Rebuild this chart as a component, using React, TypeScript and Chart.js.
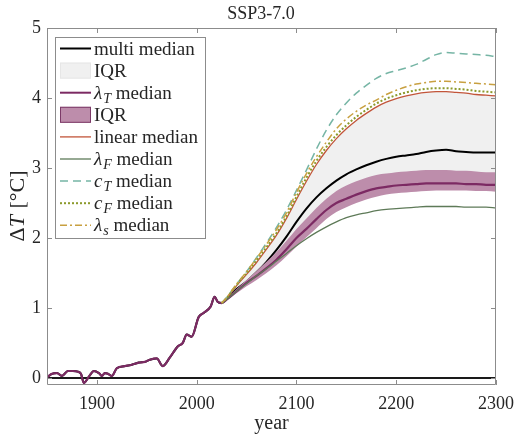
import React, { useEffect, useRef } from 'react';
import { Chart, registerables } from 'chart.js';
Chart.register(...registerables);

const FONT = '"Liberation Serif", "Times New Roman", serif';

// Historical (shared) curve
const histYears = [1850, 1855, 1860, 1865, 1871, 1876, 1881, 1884, 1887, 1892, 1897, 1902, 1905, 1908, 1911, 1915, 1920, 1928, 1935, 1942, 1948, 1953, 1960, 1966, 1973, 1981, 1986, 1990, 1995, 2002, 2007, 2014, 2018, 2021, 2025];
const histValues = [0.01, 0.06, 0.07, 0.03, 0.10, 0.10, 0.09, 0.06, -0.07, 0.02, 0.10, 0.07, 0.03, 0.07, 0.06, 0.03, 0.14, 0.17, 0.19, 0.22, 0.23, 0.26, 0.28, 0.17, 0.29, 0.45, 0.50, 0.62, 0.59, 0.87, 0.93, 1.02, 1.16, 1.09, 1.07];

// Projection years
const futureYears = [2030, 2040, 2050, 2060, 2070, 2080, 2090, 2100, 2110, 2120, 2130, 2140, 2150, 2160, 2170, 2180, 2190, 2200, 2210, 2220, 2230, 2240, 2250, 2260, 2270, 2280, 2290, 2300];

const multiMedian = [1.13, 1.27, 1.38, 1.51, 1.66, 1.83, 2.02, 2.23, 2.42, 2.58, 2.71, 2.82, 2.91, 2.98, 3.04, 3.09, 3.13, 3.16, 3.18, 3.20, 3.23, 3.25, 3.26, 3.24, 3.23, 3.22, 3.22, 3.22];
const multiIqrLow = [1.12, 1.25, 1.36, 1.48, 1.61, 1.75, 1.91, 2.08, 2.24, 2.39, 2.52, 2.63, 2.71, 2.77, 2.82, 2.86, 2.89, 2.91, 2.92, 2.93, 2.94, 2.94, 2.94, 2.94, 2.93, 2.93, 2.92, 2.92];
const multiIqrHigh = [1.14, 1.32, 1.48, 1.65, 1.84, 2.04, 2.28, 2.55, 2.81, 3.05, 3.25, 3.42, 3.56, 3.68, 3.78, 3.87, 3.94, 3.99, 4.03, 4.06, 4.08, 4.09, 4.09, 4.08, 4.07, 4.05, 4.04, 4.03];
const lambdaTMedian = [1.12, 1.24, 1.36, 1.46, 1.57, 1.69, 1.84, 2.00, 2.13, 2.27, 2.40, 2.50, 2.56, 2.62, 2.67, 2.71, 2.73, 2.75, 2.76, 2.77, 2.78, 2.78, 2.78, 2.78, 2.77, 2.77, 2.76, 2.76];
const lambdaTIqrLow = [1.11, 1.21, 1.31, 1.40, 1.50, 1.61, 1.74, 1.88, 2.01, 2.14, 2.27, 2.37, 2.44, 2.50, 2.55, 2.59, 2.62, 2.64, 2.65, 2.66, 2.67, 2.68, 2.68, 2.68, 2.68, 2.67, 2.67, 2.66];
const lambdaTIqrHigh = [1.14, 1.27, 1.40, 1.53, 1.66, 1.80, 1.96, 2.13, 2.28, 2.43, 2.56, 2.67, 2.75, 2.81, 2.86, 2.90, 2.92, 2.94, 2.95, 2.96, 2.97, 2.97, 2.97, 2.96, 2.96, 2.95, 2.94, 2.94];
const linearMedian = [1.14, 1.32, 1.48, 1.65, 1.84, 2.04, 2.28, 2.55, 2.81, 3.05, 3.25, 3.42, 3.56, 3.68, 3.78, 3.87, 3.94, 3.99, 4.03, 4.06, 4.08, 4.09, 4.09, 4.08, 4.07, 4.05, 4.04, 4.03];
const lambdaFMedian = [1.12, 1.24, 1.35, 1.46, 1.56, 1.67, 1.78, 1.89, 1.99, 2.08, 2.16, 2.23, 2.29, 2.33, 2.36, 2.39, 2.41, 2.42, 2.43, 2.44, 2.45, 2.45, 2.45, 2.45, 2.44, 2.44, 2.44, 2.43];
const cTMedian = [1.15, 1.34, 1.52, 1.72, 1.93, 2.15, 2.40, 2.68, 2.97, 3.27, 3.54, 3.76, 3.93, 4.07, 4.18, 4.28, 4.35, 4.39, 4.43, 4.48, 4.55, 4.62, 4.65, 4.64, 4.63, 4.62, 4.61, 4.59];
const cFMedian = [1.14, 1.33, 1.50, 1.68, 1.87, 2.07, 2.31, 2.59, 2.86, 3.10, 3.30, 3.47, 3.61, 3.73, 3.83, 3.92, 3.99, 4.04, 4.08, 4.11, 4.13, 4.14, 4.14, 4.13, 4.12, 4.10, 4.09, 4.08];
const lambdaSMedian = [1.15, 1.34, 1.52, 1.71, 1.91, 2.12, 2.36, 2.65, 2.92, 3.16, 3.37, 3.56, 3.70, 3.81, 3.90, 3.97, 4.05, 4.11, 4.16, 4.20, 4.22, 4.24, 4.24, 4.23, 4.22, 4.21, 4.20, 4.19];

const zeroLineYears = [1850, 2300];
const zeroLineValues = [0, 0];

const xTicks = [1900, 2000, 2100, 2200, 2300];
const yTicks = [0, 1, 2, 3, 4, 5];
const xRange = [1850, 2300];
const yRange = [-0.1, 5];

const titleText = 'SSP3-7.0';
const xLabel = 'year';

const C = {
  black: '#000000',
  gray: '#f0f0f0',
  magenta: '#7c2a63',
  magentaFill: '#bd8dab',
  red: '#c2553a',
  green: '#5e7a58',
  teal: '#76b5a5',
  olive: '#8c9a2c',
  gold: '#c8a040',
  axis: '#8c8c8c',
  text: '#262626',
};

type Part = { t: string; it?: boolean; sub?: boolean };
type LegendItem = { kind: 'line' | 'patch'; color: string; width?: number; dash?: number[]; fill?: string; border?: string; label: Part[] };

const legendItems: LegendItem[] = [
  { kind: 'line', color: C.black, width: 2, label: [{ t: 'multi median' }] },
  { kind: 'patch', color: C.gray, fill: C.gray, border: '#e6e6e6', label: [{ t: 'IQR' }] },
  { kind: 'line', color: C.magenta, width: 2, label: [{ t: 'λ', it: true }, { t: 'T', it: true, sub: true }, { t: ' median' }] },
  { kind: 'patch', color: C.magentaFill, fill: C.magentaFill, border: '#7c3a68', label: [{ t: 'IQR' }] },
  { kind: 'line', color: C.red, width: 1.3, label: [{ t: 'linear median' }] },
  { kind: 'line', color: C.green, width: 1.3, label: [{ t: 'λ', it: true }, { t: 'F', it: true, sub: true }, { t: ' median' }] },
  { kind: 'line', color: C.teal, width: 1.5, dash: [8, 5], label: [{ t: 'c', it: true }, { t: 'T', it: true, sub: true }, { t: ' median' }] },
  { kind: 'line', color: C.olive, width: 2, dash: [2, 2], label: [{ t: 'c', it: true }, { t: 'F', it: true, sub: true }, { t: ' median' }] },
  { kind: 'line', color: C.gold, width: 1.5, dash: [7, 3, 2, 3], label: [{ t: 'λ', it: true }, { t: 's', it: true, sub: true }, { t: ' median' }] },
];

const pts = (xs: number[], ys: number[]) => xs.map((x, i) => ({ x, y: ys[i] }));
const lastHist = { x: histYears[histYears.length - 1], y: histValues[histValues.length - 1] };
const histPts = pts(histYears, histValues);
const fut = (ys: number[]) => [lastHist, ...pts(futureYears, ys)];

function drawParts(ctx: CanvasRenderingContext2D, parts: Part[], x: number, y: number, size: number) {
  let cx = x;
  for (const p of parts) {
    const s = p.sub ? Math.round(size * 0.72) : size;
    ctx.font = `${p.it ? 'italic ' : ''}${s}px ${FONT}`;
    ctx.fillText(p.t, cx, y + (p.sub ? size * 0.22 : 0));
    cx += ctx.measureText(p.t).width + (p.it && !p.sub ? 1 : 0);
  }
  return cx - x;
}

function measureParts(ctx: CanvasRenderingContext2D, parts: Part[], size: number) {
  let w = 0;
  for (const p of parts) {
    const s = p.sub ? Math.round(size * 0.72) : size;
    ctx.font = `${p.it ? 'italic ' : ''}${s}px ${FONT}`;
    w += ctx.measureText(p.t).width + (p.it && !p.sub ? 1 : 0);
  }
  return w;
}

const decorPlugin = {
  id: 'decor',
  afterDatasetsDraw(chart: any) {
    const { ctx, chartArea: a, scales } = chart;
    ctx.save();
    ctx.strokeStyle = C.axis;
    ctx.lineWidth = 1;
    ctx.beginPath();
    ctx.rect(Math.round(a.left) + 0.5, Math.round(a.top) + 0.5, Math.round(a.right - a.left) - 1, Math.round(a.bottom - a.top) - 1);
    ctx.stroke();
    const tl = 5;
    ctx.beginPath();
    for (const v of xTicks) {
      const px = Math.round(scales.x.getPixelForValue(v)) + 0.5;
      ctx.moveTo(px, a.bottom); ctx.lineTo(px, a.bottom - tl);
      ctx.moveTo(px, a.top); ctx.lineTo(px, a.top + tl);
    }
    for (const v of yTicks) {
      const py = Math.round(scales.y.getPixelForValue(v)) + 0.5;
      ctx.moveTo(a.left, py); ctx.lineTo(a.left + tl, py);
      ctx.moveTo(a.right, py); ctx.lineTo(a.right - tl, py);
    }
    ctx.stroke();
    ctx.restore();
  },
  afterDraw(chart: any) {
    const { ctx } = chart;
    ctx.save();
    // Title
    ctx.fillStyle = C.text;
    ctx.font = `18px ${FONT}`;
    ctx.textAlign = 'center';
    ctx.textBaseline = 'alphabetic';
    ctx.fillText(titleText, 261, 19);

    // Y label (rotated)
    const yParts: Part[] = [{ t: 'Δ' }, { t: 'T', it: true }, { t: ' [°C]' }];
    ctx.textAlign = 'left';
    ctx.translate(24, 206);
    ctx.rotate(-Math.PI / 2);
    const w = measureParts(ctx, yParts, 22);
    drawParts(ctx, yParts, -w / 2, 0, 22);
    ctx.setTransform(1, 0, 0, 1, 0, 0);

    // Legend
    const lx = 55.5, ly = 37.5, lw = 150, lh = 201;
    ctx.fillStyle = '#ffffff';
    ctx.fillRect(lx, ly, lw, lh);
    ctx.strokeStyle = C.axis;
    ctx.lineWidth = 1;
    ctx.strokeRect(lx, ly, lw, lh);
    legendItems.forEach((it, i) => {
      const cy = 48.5 + i * 22.1;
      if (it.kind === 'line') {
        ctx.strokeStyle = it.color;
        ctx.lineWidth = it.width || 1.5;
        ctx.setLineDash(it.dash || []);
        ctx.beginPath();
        ctx.moveTo(60, cy);
        ctx.lineTo(91, cy);
        ctx.stroke();
        ctx.setLineDash([]);
      } else {
        ctx.fillStyle = it.fill!;
        ctx.fillRect(60, cy - 8, 31, 16);
        ctx.strokeStyle = it.border!;
        ctx.lineWidth = 1;
        ctx.strokeRect(60.5, cy - 7.5, 30, 15);
      }
      ctx.fillStyle = C.text;
      ctx.textAlign = 'left';
      ctx.textBaseline = 'alphabetic';
      drawParts(ctx, it.label, 94, cy + 6, 19);
    });
    ctx.restore();
  },
};

export default function App() {
  const ref = useRef<HTMLCanvasElement>(null);
  useEffect(() => {
    const mono = 'monotone' as const;
    const line = (data: any[], color: string, width: number, dash: number[] = []) => ({
      data, borderColor: color, borderWidth: width, borderDash: dash, pointRadius: 0, fill: false,
      cubicInterpolationMode: mono, borderCapStyle: 'butt' as const,
    });
    const chart = new Chart(ref.current!, {
      type: 'line',
      data: {
        datasets: [
          line(fut(lambdaSMedian), C.gold, 1.5, [7, 3, 2, 3]),
          line(fut(cFMedian), C.olive, 2, [2, 2]),
          line(fut(cTMedian), C.teal, 1.5, [8, 5]),
          line(fut(lambdaFMedian), C.green, 1.3),
          line(fut(linearMedian), C.red, 1.3),
          line([...histPts, ...pts(futureYears, lambdaTMedian)], C.magenta, 2.2),
          { ...line(fut(lambdaTIqrLow), 'rgba(0,0,0,0)', 0) },
          { ...line(fut(lambdaTIqrHigh), 'rgba(0,0,0,0)', 0), fill: '-1', backgroundColor: C.magentaFill },
          line([...histPts, ...pts(futureYears, multiMedian)], C.black, 2),
          { ...line(fut(multiIqrLow), 'rgba(0,0,0,0)', 0) },
          { ...line(fut(multiIqrHigh), 'rgba(0,0,0,0)', 0), fill: '-1', backgroundColor: C.gray },
          { ...line(pts(zeroLineYears, zeroLineValues), '#1a1a1a', 1.8), cubicInterpolationMode: 'default' as const },
        ] as any,
      },
      options: {
        animation: false,
        responsive: true,
        maintainAspectRatio: false,
        devicePixelRatio: 1,
        layout: { padding: { left: 0, right: 18, top: 28, bottom: 0 } },
        plugins: { legend: { display: false }, tooltip: { enabled: false }, title: { display: false } },
        scales: {
          x: {
            type: 'linear',
            min: xRange[0], max: xRange[1],
            grid: { display: false, drawTicks: false },
            border: { display: false },
            afterBuildTicks: (s: any) => { s.ticks = xTicks.map((v) => ({ value: v })); },
            afterFit: (s: any) => { s.height = 51; },
            ticks: { autoSkip: false, maxRotation: 0, padding: 8, color: C.text, font: { family: FONT, size: 18 }, callback: (v: any) => String(v) },
            title: { display: true, text: xLabel, color: C.text, font: { family: FONT, size: 20 }, padding: { top: 0, bottom: 0 } },
          },
          y: {
            type: 'linear',
            min: yRange[0], max: yRange[1],
            grid: { display: false, drawTicks: false },
            border: { display: false },
            afterBuildTicks: (s: any) => { s.ticks = yTicks.map((v) => ({ value: v })); },
            afterFit: (s: any) => { s.width = 47; },
            ticks: { padding: 6, color: C.text, font: { family: FONT, size: 18 }, callback: (v: any) => String(v) },
          },
        },
      },
      plugins: [decorPlugin],
    } as any);
    return () => chart.destroy();
  }, []);
  return (
    <div style={{ position: 'fixed', left: 0, top: 0, width: 522, height: 436, background: '#ffffff' }}>
      <canvas ref={ref} />
    </div>
  );
}
